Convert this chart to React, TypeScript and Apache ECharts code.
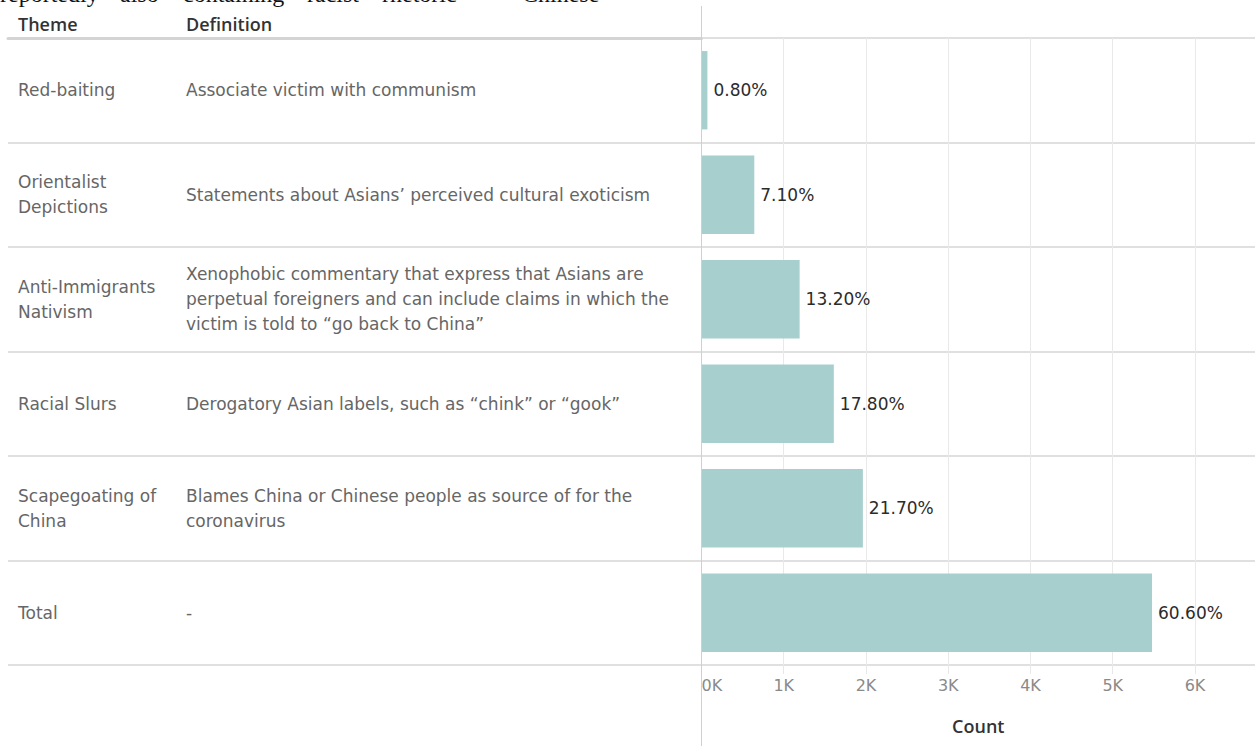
import React, { useEffect, useRef } from "react";
import * as echarts from "echarts";

const themes = [
  "Red-baiting",
  "Orientalist\nDepictions",
  "Anti-Immigrants\nNativism",
  "Racial Slurs",
  "Scapegoating of\nChina",
  "Total",
];
const definitions = [
  "Associate victim with communism",
  "Statements about Asians’ perceived cultural exoticism",
  "Xenophobic commentary that express that Asians are\nperpetual foreigners and can include claims in which the\nvictim is told to “go back to China”",
  "Derogatory Asian labels, such as “chink” or “gook”",
  "Blames China or Chinese people as source of for the\ncoronavirus",
  "-",
];
const counts = [72, 642, 1193, 1609, 1962, 5478];
const percents = [0.8, 7.1, 13.2, 17.8, 21.7, 60.6];
const topWords = ["reportedly", "also", "containing", "racist", "rhetoric", "Chinese"];
const topWordX = [0, 120, 183, 307, 382, 522];

const FONT = "DejaVu Sans";
const HEAD_FONT = "Open Sans";

export default function App() {
  const ref = useRef<HTMLDivElement>(null);
  useEffect(() => {
    if (!ref.current) return;
    const chart = echarts.init(ref.current, undefined, { renderer: "svg" });
    const splitStyle = { color: "#d6d6d6", width: 1.5 };
    chart.setOption({
      animation: false,
      backgroundColor: "#ffffff",
      textStyle: { fontFamily: FONT },
      grid: [
        { left: 8, right: 553.5, top: 38, bottom: 81 },
        { left: 701.5, right: 0, top: 38, bottom: 81 },
      ],
      xAxis: [
        {
          gridIndex: 0,
          type: "value",
          position: "top",
          axisLine: { show: true, lineStyle: { color: "#d4d4d4", width: 3 } },
          axisTick: { show: false },
          axisLabel: { show: false },
          splitLine: { show: false },
        },
        {
          gridIndex: 1,
          type: "value",
          min: 0,
          max: 6730,
          interval: 1000,
          name: "Count",
          nameLocation: "middle",
          nameGap: 52,
          nameTextStyle: {
            color: "#333333",
            fontSize: 18,
            fontWeight: 600,
            fontFamily: HEAD_FONT,
          },
          axisLine: { show: false },
          axisTick: { show: true, length: 9, lineStyle: { color: "#e8e8e8" } },
          axisLabel: {
            color: "#8a8a8a",
            fontSize: 16,
            margin: 12,
            showMaxLabel: false,
            alignMinLabel: "left",
            formatter: (v: number) => `${Math.round(v / 1000)}K`,
          },
          splitLine: {
            show: true,
            showMinLine: false,
            showMaxLine: false,
            lineStyle: { color: "#e9e9e9", width: 1 },
          },
        },
      ],
      yAxis: [
        {
          gridIndex: 0,
          type: "category",
          data: themes,
          inverse: true,
          axisLine: { show: false },
          axisTick: { show: false },
          axisLabel: {
            inside: true,
            margin: 10,
            align: "left",
            color: "#666666",
            fontSize: 17,
            lineHeight: 25,
            fontFamily: FONT,
          },
          splitLine: { show: true, lineStyle: splitStyle },
        },
        {
          gridIndex: 0,
          type: "category",
          data: definitions,
          inverse: true,
          position: "left",
          axisLine: { show: false },
          axisTick: { show: false },
          axisLabel: {
            inside: true,
            margin: 178,
            align: "left",
            color: "#666666",
            fontSize: 17,
            lineHeight: 25,
            fontFamily: FONT,
          },
          splitLine: { show: false },
        },
        {
          gridIndex: 1,
          type: "category",
          data: themes,
          inverse: true,
          axisLine: { show: false },
          axisTick: { show: false },
          axisLabel: { show: false },
          splitLine: { show: true, lineStyle: splitStyle },
        },
      ],
      series: [
        {
          type: "bar",
          xAxisIndex: 1,
          yAxisIndex: 2,
          data: counts,
          barCategoryGap: "25%",
          itemStyle: { color: "#a6cfcd" },
          label: {
            show: true,
            position: "right",
            distance: 6,
            color: "#2b2b2b",
            fontSize: 17,
            fontFamily: FONT,
            formatter: (p: any) => `${percents[p.dataIndex].toFixed(2)}%`,
          },
        },
      ],
      graphic: [
        {
          type: "line",
          shape: { x1: 701.5, y1: 6, x2: 701.5, y2: 746 },
          style: { stroke: "#d0d0d0", lineWidth: 1 },
          z: 10,
        },
        {
          type: "text",
          x: 18,
          y: 24,
          style: {
            text: "Theme",
            fontFamily: HEAD_FONT,
            fontSize: 18,
            fontWeight: 600,
            fill: "#333333",
            verticalAlign: "middle",
          },
        },
        {
          type: "text",
          x: 186,
          y: 24,
          style: {
            text: "Definition",
            fontFamily: HEAD_FONT,
            fontSize: 18,
            fontWeight: 600,
            fill: "#333333",
            verticalAlign: "middle",
          },
        },
        ...topWords.map((w, i) => ({
          type: "text",
          x: topWordX[i],
          y: -6,
          style: {
            text: w,
            fontFamily: "Liberation Serif",
            fontSize: 24,
            fill: "#111111",
            verticalAlign: "middle",
          },
        })),
      ],
    });
    return () => chart.dispose();
  }, []);
  return (
    <div
      ref={ref}
      style={{ position: "absolute", left: 0, top: 0, width: 1255, height: 746 }}
    />
  );
}
